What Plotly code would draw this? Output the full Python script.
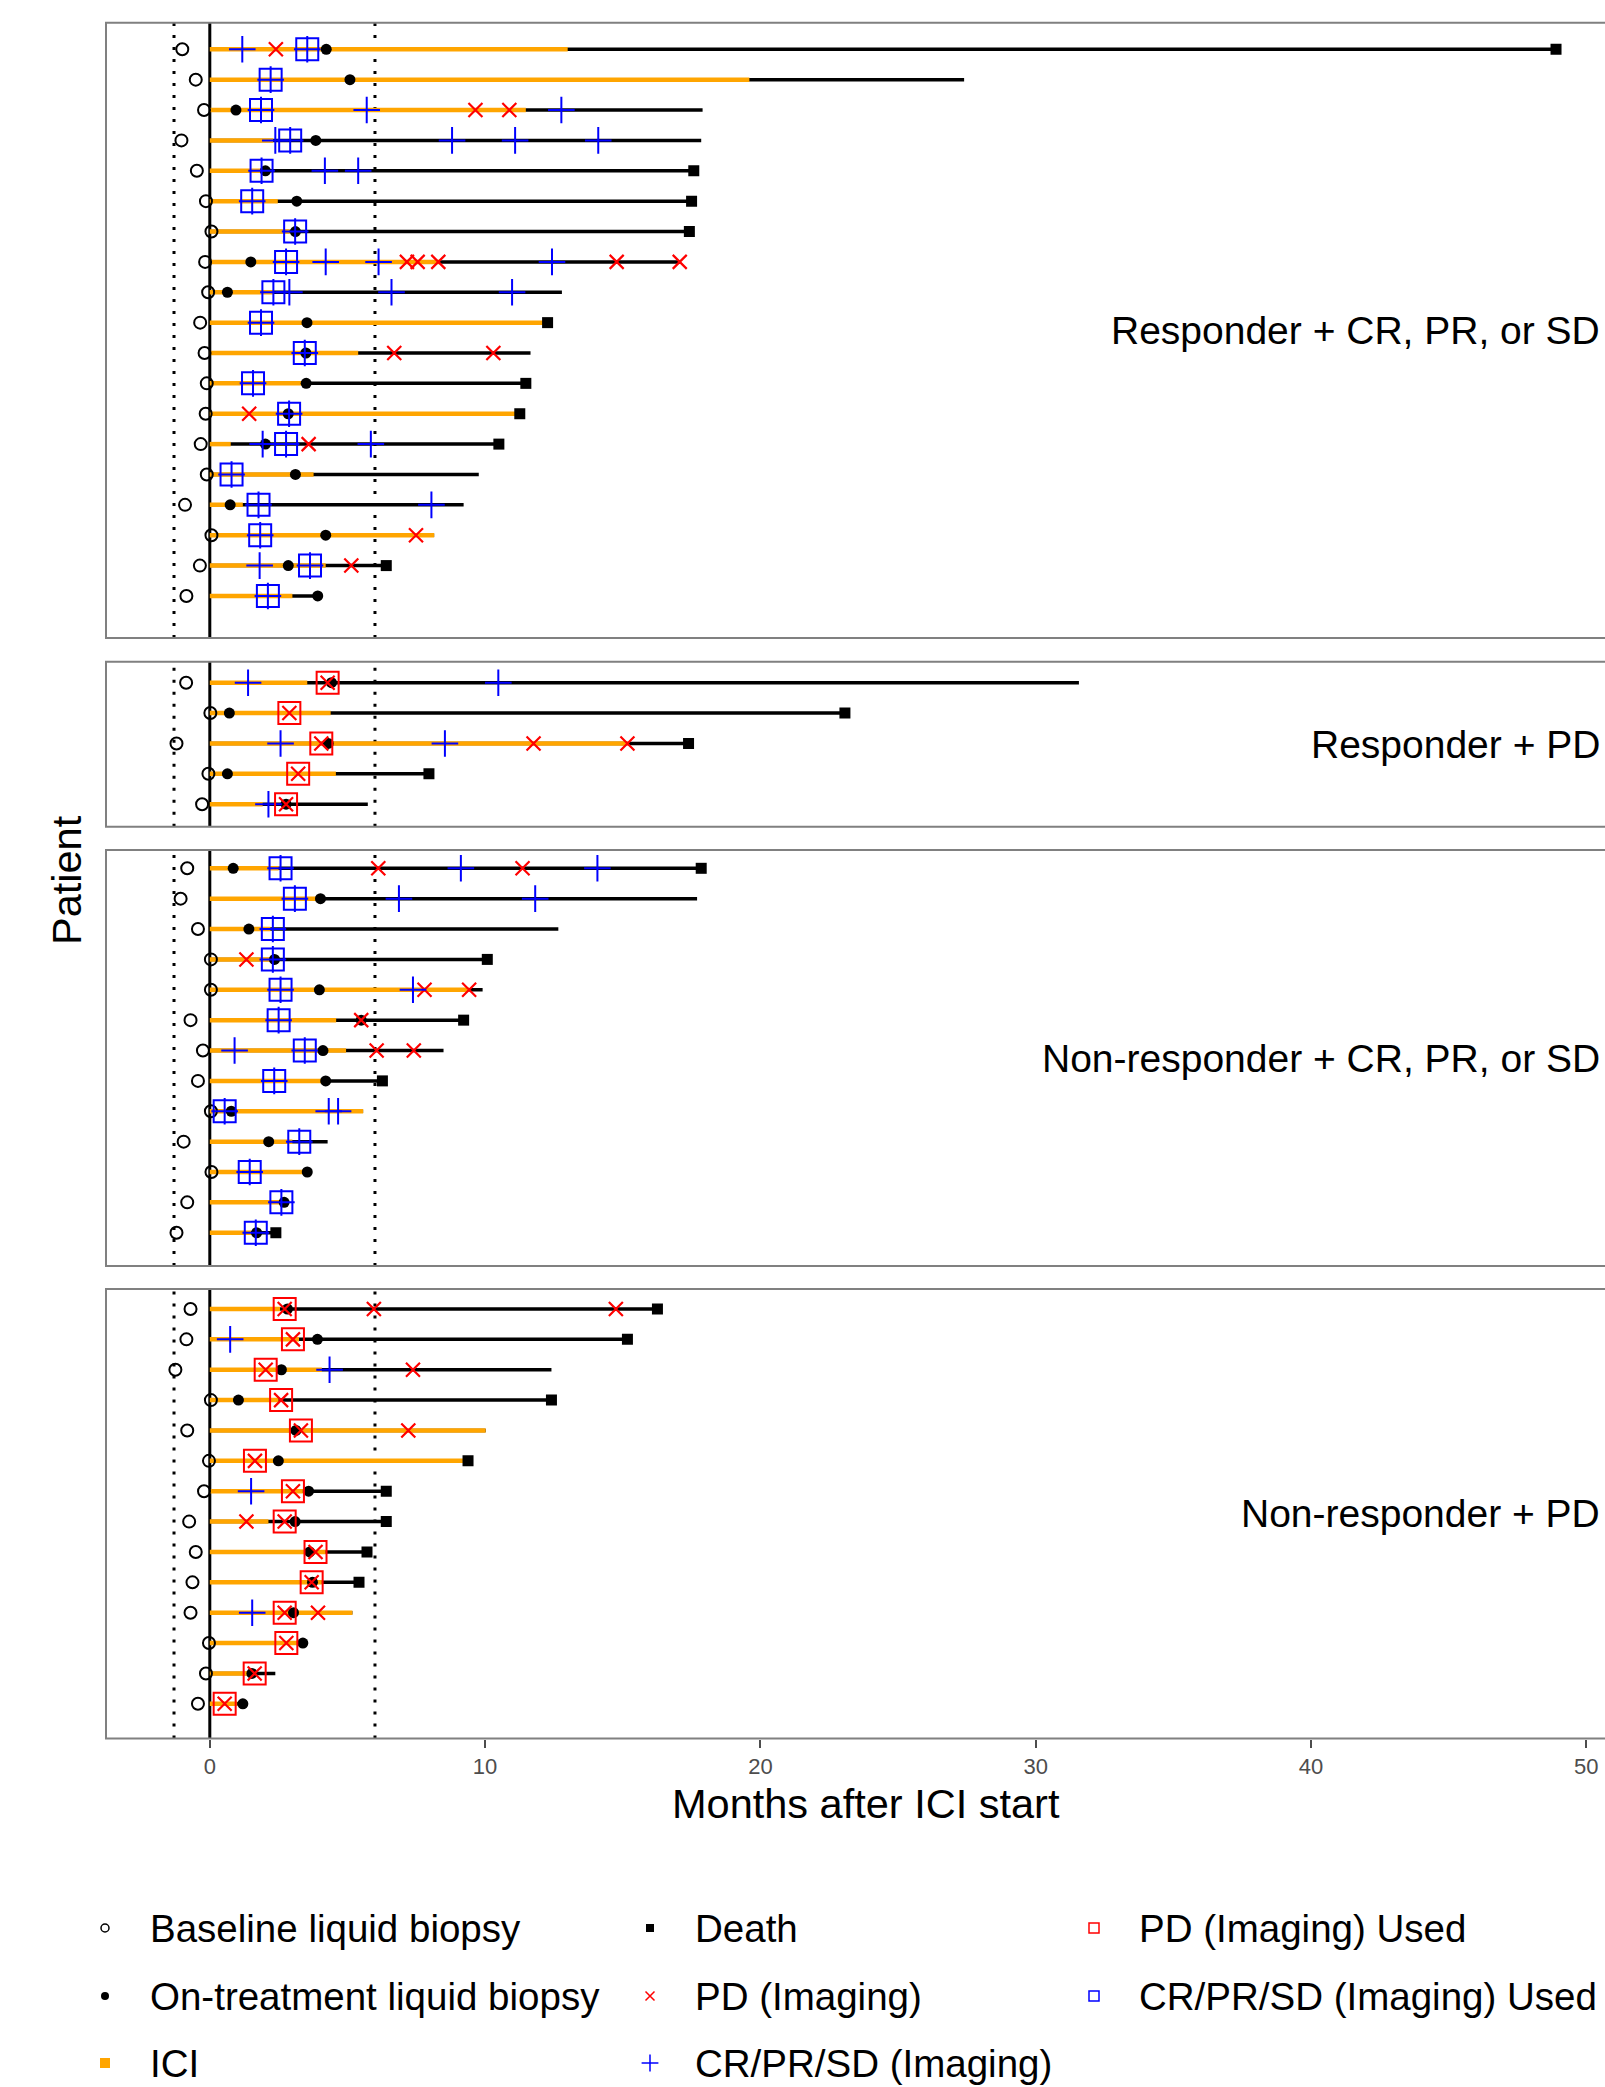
import plotly.graph_objects as go

# ---------------- DATA (months after ICI start) ----------------
group_names = ["Responder + CR, PR, or SD", "Responder + PD",
               "Non-responder + CR, PR, or SD", "Non-responder + PD"]
used_kind = ["CR", "PD", "CR", "PD"]

group_of_patient = [0] * 19 + [1] * 5 + [2] * 13 + [3] * 14

baseline_biopsy = [
    -1.0, -0.51, -0.21, -1.03, -0.47, -0.14, 0.06, -0.17, -0.06, -0.35,
    -0.19, -0.11, -0.15, -0.33, -0.11, -0.9, 0.06, -0.36, -0.85,
    -0.86, 0.02, -1.21, -0.05, -0.28,
    -0.82, -1.06, -0.43, 0.04, 0.04, -0.7, -0.25, -0.43, 0.04, -0.95, 0.06, -0.82, -1.21,
    -0.7, -0.85, -1.25, 0.04, -0.82, -0.03, -0.21, -0.75, -0.51, -0.63, -0.7, -0.03, -0.14, -0.43,
]
on_treatment_biopsy = [
    4.23, 5.09, 0.95, 3.85, 2.02, 3.16, 3.11, 1.49, 0.64, 3.53,
    3.49, 3.5, 2.85, 2.02, 3.11, 0.74, 4.21, 2.85, 3.92,
    4.42, 0.71, 4.3, 0.64, 2.77,
    0.85, 4.02, 1.42, 2.35, 3.98, 5.5, 4.11, 4.21, 0.78, 2.14, 3.54, 2.7, 1.7,
    2.82, 3.91, 2.6, 1.04, 3.13, 2.49, 3.59, 3.1, 3.63, 3.73, 3.04, 3.38, 1.53, 1.2,
]
ici_end = [
    13.0, 19.6, 11.48, 2.3, 1.9, 2.47, 2.9, 8.35, 2.3, 12.27,
    5.39, 3.5, 11.26, 0.76, 3.77, 1.2, 8.15, 4.21, 3.0,
    3.54, 4.39, 15.17, 4.58, 1.92,
    2.5, 4.0, 2.2, 2.3, 9.42, 4.59, 4.95, 4.21, 5.57, 3.0, 3.54, 2.6, 1.5,
    2.55, 3.24, 4.07, 2.5, 10.02, 9.38, 3.38, 2.13, 4.21, 4.07, 5.18, 3.38, 1.6, 1.0,
]
followup_end = [
    48.9, 27.4, 17.9, 17.85, 17.58, 17.5, 17.42, 17.1, 12.79, 12.27,
    11.65, 11.48, 11.26, 10.5, 9.77, 9.22, 8.15, 6.41, 3.92,
    31.57, 23.07, 17.39, 7.96, 5.74,
    17.85, 17.7, 12.66, 10.08, 9.91, 9.22, 8.49, 6.27, 5.57, 4.28, 3.54, 2.7, 2.4,
    16.26, 15.17, 12.41, 12.41, 10.02, 9.38, 6.41, 6.41, 5.71, 5.42, 5.18, 3.38, 2.38, 1.2,
]
death_time = [
    48.9, None, None, None, 17.58, 17.5, 17.42, None, None, 12.27,
    None, 11.48, 11.26, 10.5, None, None, None, 6.41, None,
    None, 23.07, 17.39, 7.96, None,
    17.85, None, None, 10.08, None, 9.22, None, 6.27, None, None, None, None, 2.4,
    16.26, 15.17, None, 12.41, None, 9.38, 6.41, 6.41, 5.71, 5.42, None, None, None, None,
]
pd_imaging = [
    [2.40], [], [9.65, 10.88], [], [], [], [], [7.16, 7.55, 8.30, 14.78, 17.07], [], [],
    [6.7, 10.3], [], [1.43], [3.59], [], [], [7.49], [5.14], [],
    [4.28], [2.89], [4.05, 11.76, 15.17], [3.21], [2.77],
    [6.12, 11.36], [], [], [1.33], [7.8, 9.42], [5.5], [6.06, 7.41], [], [], [], [], [], [],
    [2.72, 5.96, 14.75], [3.02], [2.03, 7.38], [2.59], [3.31, 7.21], [1.64], [3.02],
    [1.33, 2.72], [3.84], [3.7], [2.72, 3.93], [2.78], [1.63], [0.54],
]
cr_imaging = [
    [1.18, 3.54], [2.21], [1.86, 5.70, 12.77], [2.38, 2.92, 8.80, 11.09, 14.11],
    [1.88, 4.18, 5.39], [1.54], [3.1], [2.77, 4.21, 6.13, 12.43], [2.31, 2.89, 6.6, 10.98],
    [1.86], [3.45], [1.57], [2.88], [1.92, 2.77, 5.85], [0.79], [1.77, 8.05], [1.83],
    [1.81, 3.64], [2.11],
    [1.39, 10.48], [], [2.57, 8.54], [], [2.13],
    [2.57, 9.12, 14.08], [3.09, 6.87, 11.82], [2.29], [2.29], [2.57, 7.38], [2.5],
    [0.9, 3.45], [2.34], [0.54, 4.32, 4.66], [3.25], [1.45], [2.6], [1.67],
    [], [0.74], [4.35], [], [], [], [1.5], [], [], [], [1.54], [], [], [],
]
used_imaging = [
    3.54, 2.21, 1.86, 2.92, 1.88, 1.54, 3.1, 2.77, 2.31, 1.86,
    3.45, 1.57, 2.88, 2.77, 0.79, 1.77, 1.83, 3.64, 2.11,
    4.28, 2.89, 4.05, 3.21, 2.77,
    2.57, 3.09, 2.29, 2.29, 2.57, 2.5, 3.45, 2.34, 0.54, 3.25, 1.45, 2.6, 1.67,
    2.72, 3.02, 2.03, 2.59, 3.31, 1.64, 3.02, 2.72, 3.84, 3.7, 2.72, 2.78, 1.63, 0.54,
]
baseline_window = -1.3
landmark = 6
x_ticks = [0, 10, 20, 30, 40, 50]

# ---------------- LAYOUT CONSTANTS (pixels) ----------------
W, H = 1605, 2087
FONT = "Liberation Sans, Arial, Helvetica, sans-serif"
ORANGE, BLUE, RED = "#FFA500", "#0000FF", "#FF0000"
x_left_px, x0_px, px_per_month = 106, 209.8, 27.53
panel_px = [(22.7, 638.0, 49.3), (661.7, 826.7, 682.7),
            (850.0, 1266.0, 868.3), (1289.0, 1738.5, 1309.0)]
row_sp = 30.37

x_min = (x_left_px - x0_px) / px_per_month
x_max = (W - x0_px) / px_per_month

fig = go.Figure()
layout = dict(
    width=W, height=H, margin=dict(l=0, r=0, t=0, b=0),
    plot_bgcolor="white", paper_bgcolor="white", showlegend=False,
    font=dict(family=FONT, color="black"),
)
layout["xaxis"] = dict(domain=[x_left_px / W, 1.0], range=[x_min, x_max], anchor="y4",
                       showgrid=False, zeroline=False, showline=False,
                       tickvals=x_ticks, ticks="outside", ticklen=8, tickwidth=2,
                       tickcolor="#4d4d4d", tickfont=dict(size=22, color="#4d4d4d", family=FONT))
shapes = []
annotations = []

for g in range(4):
    top, bot, first = panel_px[g]
    idx = [i for i, gg in enumerate(group_of_patient) if gg == g]
    yname = "y" if g == 0 else f"y{g+1}"
    ykey = "yaxis" if g == 0 else f"yaxis{g+1}"
    layout[ykey] = dict(domain=[1 - bot / H, 1 - top / H],
                        range=[1 + (bot - first) / row_sp, 1 - (first - top) / row_sp],
                        anchor="x", showgrid=False, zeroline=False, showline=False,
                        showticklabels=False, ticks="")
    rows = list(range(1, len(idx) + 1))

    def seg(ends):
        xs, ys = [], []
        for r, e in zip(rows, ends):
            xs += [0, e, None]
            ys += [r, r, None]
        return xs, ys

    xs, ys = seg([followup_end[i] for i in idx])
    fig.add_trace(go.Scatter(x=xs, y=ys, mode="lines", line=dict(color="black", width=3.5),
                             yaxis=yname, xaxis="x", hoverinfo="skip"))
    xs, ys = seg([ici_end[i] for i in idx])
    fig.add_trace(go.Scatter(x=xs, y=ys, mode="lines", line=dict(color=ORANGE, width=4.5),
                             yaxis=yname, xaxis="x", hoverinfo="skip"))
    # baseline
    fig.add_trace(go.Scatter(x=[baseline_biopsy[i] for i in idx], y=rows, mode="markers",
                             marker=dict(symbol="circle-open", size=12, color="black",
                                         line=dict(width=2, color="black")),
                             yaxis=yname, xaxis="x"))
    # on-treatment
    fig.add_trace(go.Scatter(x=[on_treatment_biopsy[i] for i in idx], y=rows, mode="markers",
                             marker=dict(symbol="circle", size=11, color="black"),
                             yaxis=yname, xaxis="x"))
    # death
    dx = [death_time[i] for i in idx if death_time[i] is not None]
    dy = [r for r, i in zip(rows, idx) if death_time[i] is not None]
    fig.add_trace(go.Scatter(x=dx, y=dy, mode="markers",
                             marker=dict(symbol="square", size=11, color="black"),
                             yaxis=yname, xaxis="x"))
    # PD imaging
    px_, py_ = [], []
    for r, i in zip(rows, idx):
        for v in pd_imaging[i]:
            px_.append(v); py_.append(r)
    fig.add_trace(go.Scatter(x=px_, y=py_, mode="markers",
                             marker=dict(symbol="x-thin", size=14, color=RED,
                                         line=dict(width=2.2, color=RED)),
                             yaxis=yname, xaxis="x"))
    # CR imaging
    cx, cy = [], []
    for r, i in zip(rows, idx):
        for v in cr_imaging[i]:
            cx.append(v); cy.append(r)
    fig.add_trace(go.Scatter(x=cx, y=cy, mode="markers",
                             marker=dict(symbol="cross-thin", size=19, color=BLUE,
                                         line=dict(width=2, color=BLUE)),
                             yaxis=yname, xaxis="x"))
    # Used imaging
    uc = BLUE if used_kind[g] == "CR" else RED
    fig.add_trace(go.Scatter(x=[used_imaging[i] for i in idx], y=rows, mode="markers",
                             marker=dict(symbol="square-open", size=22, color=uc,
                                         line=dict(width=2, color=uc)),
                             yaxis=yname, xaxis="x"))

    # reference lines
    yref = f"{yname} domain"
    shapes.append(dict(type="line", xref="x", yref=yref, x0=0, x1=0, y0=0, y1=1,
                       line=dict(color="black", width=3), layer="below"))
    for xv in (baseline_window, landmark):
        shapes.append(dict(type="line", xref="x", yref=yref, x0=xv, x1=xv, y0=0, y1=1,
                           line=dict(color="black", width=3, dash="3px,9px"), layer="below"))
    # panel frame (right side is beyond the picture)
    shapes.append(dict(type="rect", xref="paper", yref="paper",
                       x0=x_left_px / W, x1=1.02, y0=1 - bot / H, y1=1 - top / H,
                       line=dict(color="#808080", width=2), fillcolor="rgba(0,0,0,0)"))
    annotations.append(dict(text=group_names[g], xref="paper", yref="paper",
                            x=1602 / W, y=1 - (top + bot) / 2 / H, xanchor="right",
                            yanchor="middle", showarrow=False,
                            font=dict(size=39, color="black", family=FONT)))

# axis titles
annotations.append(dict(text="Months after ICI start", xref="paper", yref="paper",
                        x=866 / W, y=1 - 1803 / H, xanchor="center", yanchor="middle",
                        showarrow=False, font=dict(size=41.5, color="black", family=FONT)))
annotations.append(dict(text="Patient", xref="paper", yref="paper", textangle=-90,
                        x=66 / W, y=1 - 880 / H, xanchor="center", yanchor="middle",
                        showarrow=False, font=dict(size=41.5, color="black", family=FONT)))

# ---------------- manual legend ----------------
leg_top = 1880
layout["xaxis5"] = dict(domain=[0, 1], range=[0, W], visible=False, anchor="y5")
layout["yaxis5"] = dict(domain=[0, (H - leg_top) / H], range=[H, leg_top], visible=False,
                        anchor="x5")
legend_items = [
    ("Baseline liquid biopsy", 105, 1928, dict(symbol="circle-open", size=8, color="black", line=dict(width=1.5, color="black"))),
    ("On-treatment liquid biopsy", 105, 1996, dict(symbol="circle", size=8, color="black")),
    ("ICI", 105, 2063, dict(symbol="square", size=10, color=ORANGE)),
    ("Death", 650, 1928, dict(symbol="square", size=8, color="black")),
    ("PD (Imaging)", 650, 1996, dict(symbol="x-thin", size=9, color=RED, line=dict(width=1.5, color=RED))),
    ("CR/PR/SD (Imaging)", 650, 2063, dict(symbol="cross-thin", size=12, color=BLUE, line=dict(width=1.5, color=BLUE))),
    ("PD (Imaging) Used", 1094, 1928, dict(symbol="square-open", size=10, color=RED, line=dict(width=1.5, color=RED))),
    ("CR/PR/SD (Imaging) Used", 1094, 1996, dict(symbol="square-open", size=10, color=BLUE, line=dict(width=1.5, color=BLUE))),
]
for label, lx, ly, mk in legend_items:
    fig.add_trace(go.Scatter(x=[lx], y=[ly], mode="markers", marker=mk,
                             xaxis="x5", yaxis="y5", hoverinfo="skip"))
    annotations.append(dict(text=label, xref="paper", yref="paper",
                            x=(lx + 43) / W, y=1 - ly / H, xanchor="left", yanchor="middle",
                            showarrow=False, font=dict(size=38.5, color="black", family=FONT)))

layout["shapes"] = shapes
layout["annotations"] = annotations
fig.update_layout(**layout)
fig.write_html("out.html", config={"displayModeBar": False},
               post_script="document.body.style.margin='0';document.body.style.overflow='hidden';")
